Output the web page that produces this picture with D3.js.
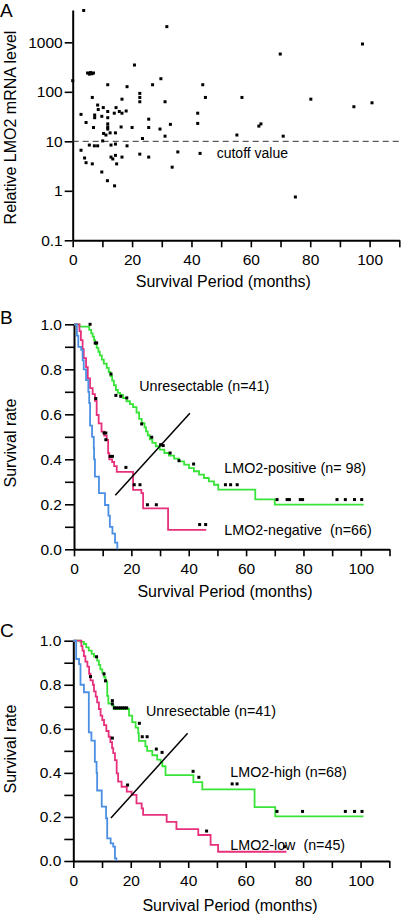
<!DOCTYPE html>
<html><head><meta charset="utf-8">
<script src="https://cdn.jsdelivr.net/npm/d3@7"></script>
<style>
html,body{margin:0;padding:0;background:#fff;}
svg{display:block;font-family:"Liberation Sans",Arial,sans-serif;}
</style></head>
<body><svg id="c" width="402" height="916"></svg>
<script>
// ---------- DATA ----------
// Panel A: scatter of survival (months) vs LMO2 level
const scatterMonths = [3.7,31.7,20.8,5.0,6.0,7.0,5.6,6.5,0.0,11.8,18.3,29.7,26.9,43.8,69.9,97.6,6.6,22.6,22.6,22.6,16.6,31.1,44.7,57.0,80.2,94.7,100.8,8.4,10.3,8.6,11.8,14.6,15.7,16.6,18.0,2.8,7.4,7.4,9.8,11.8,14.0,42.1,42.1,4.5,7.0,11.8,11.8,11.8,16.3,20.0,25.6,25.6,29.4,32.9,10.4,11.2,12.6,14.4,31.1,23.5,55.3,62.7,63.4,70.9,10.1,5.6,7.3,8.4,12.9,14.4,18.3,2.8,4.0,4.5,6.6,12.9,13.5,14.4,14.8,16.6,22.6,25.6,35.4,42.9,33.5,9.8,11.7,14.1,75.0];
const scatterLevels = [4400,2075,348,240,245,240,228,232,168,139,127,184,139,139,580,925,77,93,77,63,71,63,77,77,71,50,60,54,48,44,40,48,40,37,41,35,34,30,32,30,37,37,23,24,19,22.5,19.5,17.7,19.5,19,28,19,17.7,22,14.4,13.4,14.8,14.8,12.7,11.4,13.4,20.3,22.5,12.7,10.2,8.4,8.1,8.1,8.4,8.8,8.1,6.6,4.6,3.7,3.5,4.8,4.4,5.2,3.5,4.8,5.5,4.8,6.1,5.7,3.0,2.4,1.6,1.26,0.75];
const cutoffLevel = 10;
const aYTicks = [0.1,1,10,100,1000];
const monthTicks = [0,10,20,30,40,50,60,70,80,90,100,110];
const monthLabels = [0,20,40,60,80,100];
const rateTicks = [0,0.1,0.2,0.3,0.4,0.5,0.6,0.7,0.8,0.9,1.0];

// Panel B Kaplan-Meier
const bPosT = [0,1.9,5.3,6.0,6.5,7.0,7.4,7.9,8.5,9.0,9.7,10.4,11.4,12.1,12.7,13.3,13.9,14.6,15.3,16.1,17.1,18.3,19.5,20.6,21.8,22.7,23.6,24.6,25.1,25.7,26.4,27.3,28.5,29.9,31.5,33.1,34.9,36.6,38.4,40.1,41.8,43.6,45.3,47.0,48.8,50.3,63.2,70.0,101.0];
const bPosS = [1,0.99,0.975,0.96,0.945,0.93,0.912,0.895,0.878,0.862,0.843,0.825,0.806,0.788,0.77,0.75,0.73,0.708,0.695,0.686,0.672,0.658,0.645,0.632,0.608,0.58,0.561,0.542,0.524,0.507,0.489,0.473,0.458,0.443,0.428,0.416,0.403,0.391,0.376,0.361,0.347,0.332,0.317,0.302,0.287,0.265,0.222,0.199,0.199];
const bNegT = [0,1.9,2.4,3.0,3.4,4.2,4.8,5.6,6.5,7.3,7.9,8.6,9.6,10.5,11.4,11.9,12.3,13.3,14.0,14.9,20.6,23.5,24.1,32.8,46.1];
const bNegS = [1,0.97,0.93,0.89,0.85,0.81,0.76,0.716,0.69,0.66,0.597,0.56,0.523,0.505,0.486,0.427,0.40,0.388,0.37,0.344,0.264,0.25,0.182,0.086,0.086];
const bUnrT = [0,1.0,1.5,2.5,3.0,3.4,4.2,5.0,5.3,5.6,6.3,6.9,7.0,7.3,8.7,10.8,12.0,12.5,13.4,14.3,15.1];
const bUnrS = [1,0.95,0.90,0.886,0.84,0.80,0.752,0.70,0.65,0.55,0.50,0.45,0.40,0.323,0.25,0.197,0.15,0.10,0.07,0.03,0];
const bPosCensT = [5.6,7.4,7.9,12.9,14.6,16.3,18.4,23.6,27.1,30.2,31.1,33.5,36.6,41.7,52.8,54.6,56.9,70.8,74.3,75.1,78.9,79.7,91.7,94.6,97.8,100.3];
const bPosCensS = [1.0,0.917,0.917,0.779,0.684,0.680,0.673,0.557,0.498,0.465,0.461,0.428,0.394,0.379,0.287,0.287,0.287,0.221,0.221,0.221,0.221,0.221,0.221,0.221,0.221,0.221];
const bNegCensT = [7.6,10.5,11.1,11.1,12.6,13.4,18.1,21.0,23.0,25.6,28.7,43.8,45.9];
const bNegCensS = [0.67,0.517,0.517,0.487,0.413,0.413,0.364,0.287,0.287,0.198,0.198,0.11,0.11];
const bPointer = [[14.4,0.24],[40.4,0.605]];

// Panel C Kaplan-Meier
const cHighT = [0,2.5,3.7,4.5,5.4,6.4,7.2,8.3,8.9,9.4,10.1,10.7,11.2,11.8,12.2,13.6,14.1,19.4,20.5,21.7,22.6,22.8,25.1,25.7,27.5,29.2,30.4,31.0,32.1,41.8,44.9,63.1,70.3,101.0];
const cHighS = [1,0.995,0.985,0.97,0.955,0.94,0.928,0.91,0.89,0.87,0.855,0.835,0.815,0.75,0.715,0.705,0.69,0.66,0.63,0.605,0.58,0.545,0.52,0.5,0.48,0.46,0.445,0.43,0.39,0.358,0.325,0.245,0.203,0.203];
const cLowT = [0,2.8,3.2,3.7,4.2,4.9,5.5,6.0,6.8,7.2,7.8,8.3,8.9,9.5,10.1,10.7,11.5,12.3,12.9,13.5,13.9,14.5,15.1,15.6,16.8,18.6,20.3,22.0,23.8,24.3,32.5,35.9,43.5,47.8,50.4,74.2];
const cLowS = [1,0.975,0.955,0.93,0.905,0.882,0.85,0.82,0.80,0.77,0.746,0.72,0.69,0.66,0.64,0.617,0.59,0.564,0.54,0.512,0.49,0.458,0.398,0.36,0.337,0.315,0.30,0.262,0.239,0.209,0.178,0.145,0.118,0.073,0.042,0.042];
const cUnrT = [0,1.0,2.0,2.5,3.7,5.4,6.3,7.5,8.1,8.3,9.9,11.4,11.8,13.0,13.9,14.5,15.0];
const cUnrS = [1,0.917,0.894,0.80,0.766,0.584,0.546,0.45,0.40,0.32,0.247,0.194,0.103,0.08,0.065,0.012,0];
const cHighCensT = [8.1,10.7,11.2,13.6,13.6,14.3,15.0,15.8,16.5,17.2,17.9,18.6,23.0,24.0,25.7,28.9,30.9,41.7,43.7,55.3,57.0,70.9,79.8,94.7,97.9,100.5];
const cHighCensS = [0.927,0.849,0.818,0.728,0.713,0.695,0.695,0.695,0.695,0.695,0.695,0.695,0.625,0.564,0.564,0.508,0.493,0.407,0.38,0.35,0.35,0.225,0.225,0.225,0.225,0.225];
const cLowCensT = [6.0,13.6,18.9,46.4,73.6];
const cLowCensS = [0.837,0.558,0.345,0.136,0.065];
const cPointer = [[13.1,0.195],[39.8,0.58]];

const colGreen = "#38e438", colPink = "#e6307c", colBlue = "#4a8fe4";

// ---------- DRAW ----------
const svg = d3.select("#c");
const F = '"Liberation Sans",Arial,sans-serif';

function styleAxis(g){
  g.select(".domain").attr("stroke","#000").attr("stroke-width",2);
  g.selectAll(".tick line").attr("stroke","#000").attr("stroke-width",1.6);
  g.selectAll(".tick text").attr("fill","#000").style("font-size","15.5px").style("font-family",F);
}
function label(t,x,y,size,opts={}){
  const e = svg.append("text").attr("x",x).attr("y",y).attr("font-size",size)
    .attr("font-family",F).attr("fill","#000").text(t);
  if(opts.anchor) e.attr("text-anchor",opts.anchor);
  if(opts.dy) e.attr("dy",opts.dy);
  if(opts.rot) e.attr("transform",`rotate(-90,${x},${y})`);
  e.style("white-space","pre");
  return e;
}

// ----- Panel A -----
const xA = d3.scaleLinear().domain([0,110]).range([72.7,399.3]);
const yA = d3.scaleLog().domain([0.1,4500]).range([240.3,10]);
svg.append("g").attr("transform","translate(0,240.3)")
  .call(d3.axisBottom(xA).tickValues(monthTicks).tickSize(7).tickPadding(7).tickSizeOuter(0)
     .tickFormat(d=>monthLabels.includes(d)?d:""))
  .call(styleAxis);
svg.append("g").attr("transform","translate(72.7,0)")
  .call(d3.axisLeft(yA).tickValues(aYTicks).tickSize(8).tickPadding(2).tickSizeOuter(0)
     .tickFormat(d=>String(d)))
  .call(styleAxis);
svg.append("line").attr("x1",xA(0)).attr("x2",402).attr("y1",yA(cutoffLevel)).attr("y2",yA(cutoffLevel))
  .attr("stroke","#333").attr("stroke-width",1).attr("stroke-dasharray","6,4");
svg.append("g").selectAll("rect").data(scatterMonths.map((m,i)=>[m,scatterLevels[i]])).join("rect")
  .attr("x",d=>xA(d[0])-1.5).attr("y",d=>yA(d[1])-1.5).attr("width",3).attr("height",3).attr("fill","#000");
label("cutoff value",216.7,153,14,{dy:"0.35em"});
label("A",0,17,19);
label("Survival Period (months)",223.3,281.7,16,{anchor:"middle",dy:"0.35em"});
label("Relative LMO2 mRNA level",10,127.5,16,{anchor:"middle",dy:"0.35em",rot:true});

// ----- KM panels -----
function kmPanel(cfg){
  const x = d3.scaleLinear().domain([0,110]).range([cfg.x0,cfg.x110]);
  const y = d3.scaleLinear().domain([0,1]).range([cfg.y0,cfg.y1]);
  svg.append("g").attr("transform",`translate(0,${cfg.y0})`)
    .call(d3.axisBottom(x).tickValues(monthTicks).tickSize(7).tickPadding(7).tickSizeOuter(0)
      .tickFormat(d=>monthLabels.includes(d)?d:""))
    .call(styleAxis);
  svg.append("g").attr("transform",`translate(${cfg.x0},0)`)
    .call(d3.axisLeft(y).tickValues(rateTicks).tickSize(9).tickPadding(3).tickSizeOuter(0)
      .tickFormat((d,i)=>i%2===0?d3.format(".1f")(d):""))
    .call(styleAxis);
  const line = d3.line().x(d=>x(d[0])).y(d=>y(d[1])).curve(d3.curveStepAfter);
  cfg.curves.forEach(c=>{
    svg.append("path").datum(c.t.map((t,i)=>[t,c.s[i]])).attr("d",line)
      .attr("fill","none").attr("stroke",c.color).attr("stroke-width",1.8);
  });
  cfg.cens.forEach(c=>{
    svg.append("g").selectAll("rect").data(c.t.map((t,i)=>[t,c.s[i]])).join("rect")
      .attr("x",d=>x(d[0])-1.5).attr("y",d=>y(d[1])-1.5).attr("width",3).attr("height",3).attr("fill","#000");
  });
  svg.append("path").datum(cfg.pointer).attr("d",d3.line().x(d=>x(d[0])).y(d=>y(d[1])))
    .attr("stroke","#000").attr("stroke-width",1.5).attr("fill","none");
  cfg.texts.forEach(t=>label(t[0],t[1],t[2],14.3,{dy:"0.35em"}));
  label(cfg.letter,0,cfg.letterY,19);
  label("Survival Period (months)",cfg.titleX,cfg.titleY,16,{anchor:"middle",dy:"0.35em"});
  label("Survival rate",10,cfg.yTitleY,16,{anchor:"middle",dy:"0.35em",rot:true});
}

kmPanel({x0:74,x110:389.5,y0:549.3,y1:324.3,
  curves:[{t:bPosT,s:bPosS,color:colGreen},{t:bNegT,s:bNegS,color:colPink},{t:bUnrT,s:bUnrS,color:colBlue}],
  cens:[{t:bPosCensT,s:bPosCensS},{t:bNegCensT,s:bNegCensS}],
  pointer:bPointer,
  texts:[["Unresectable (n=41)",139.3,386],["LMO2-positive (n= 98)",224.3,468],["LMO2-negative  (n=66)",224.3,530.3]],
  letter:"B",letterY:323.5,titleX:225,titleY:591.7,yTitleY:443});

kmPanel({x0:73.3,x110:389.3,y0:861,y1:640.7,
  curves:[{t:cHighT,s:cHighS,color:colGreen},{t:cLowT,s:cLowS,color:colPink},{t:cUnrT,s:cUnrS,color:colBlue}],
  cens:[{t:cHighCensT,s:cHighCensS},{t:cLowCensT,s:cLowCensS}],
  pointer:cPointer,
  texts:[["Unresectable (n=41)",146,711.3],["LMO2-high (n=68)",230.3,772.3],["LMO2-low  (n=45)",230.3,844.7]],
  letter:"C",letterY:637,titleX:230,titleY:905,yTitleY:749});
</script></body></html>
